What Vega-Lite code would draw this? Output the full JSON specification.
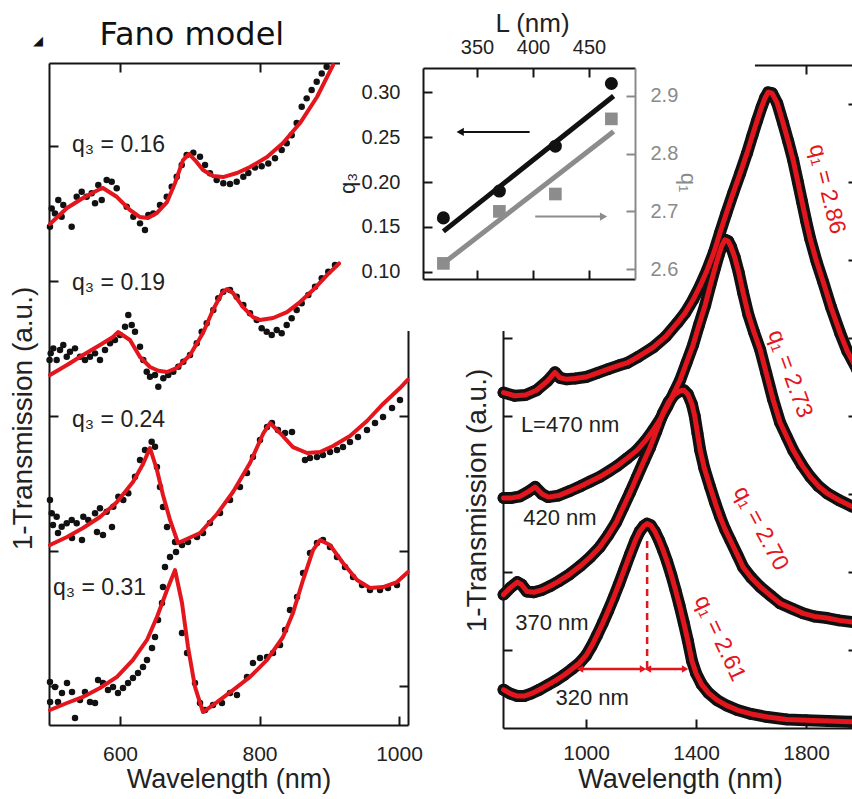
{
"$schema": "https://vega.github.io/schema/vega-lite/v6.json",
"width": 852, "height": 799, "autosize": "none", "padding": 0, "background": "white",
"config": {
  "view": {"stroke": null},
  "font": "Liberation Sans",
  "text": {"font": "Liberation Sans"},
  "axis": {"grid": false, "domainColor": "#151515", "domainWidth": 2, "tickColor": "#151515", "tickWidth": 2, "tickSize": -9,
           "labelFont": "Liberation Sans", "labelFontSize": 21, "labelColor": "#222", "labelPadding": 12, "labelFlush": false, "labelOverlap": false,
           "titleFont": "Liberation Sans", "titleFontSize": 27, "titleFontWeight": "normal", "titleColor": "#222"}
},
"datasets": {
  "leftDots": [
    {"s":"0.16","nm":499.6,"T":3.402},{"s":"0.16","nm":502.1,"T":3.538},{"s":"0.16","nm":506.8,"T":3.501},{"s":"0.16","nm":511.5,"T":3.6},{"s":"0.16","nm":516.3,"T":3.476},{"s":"0.16","nm":518.7,"T":3.563},{"s":"0.16","nm":530.7,"T":3.402},{"s":"0.16","nm":537.9,"T":3.625},{"s":"0.16","nm":545.1,"T":3.662},{"s":"0.16","nm":552.2,"T":3.625},{"s":"0.16","nm":559.4,"T":3.65},{"s":"0.16","nm":564.2,"T":3.576},{"s":"0.16","nm":568.9,"T":3.711},{"s":"0.16","nm":573.8,"T":3.6},{"s":"0.16","nm":580.9,"T":3.748},{"s":"0.16","nm":588.1,"T":3.736},{"s":"0.16","nm":595.3,"T":3.687},{"s":"0.16","nm":609.6,"T":3.551},{"s":"0.16","nm":619.1,"T":3.476},{"s":"0.16","nm":628.7,"T":3.427},{"s":"0.16","nm":635.8,"T":3.378},{"s":"0.16","nm":640.6,"T":3.489},{"s":"0.16","nm":647.7,"T":3.501},{"s":"0.16","nm":657.3,"T":3.563},{"s":"0.16","nm":667.0,"T":3.625},{"s":"0.16","nm":674.1,"T":3.699},{"s":"0.16","nm":681.3,"T":3.773},{"s":"0.16","nm":688.5,"T":3.859},{"s":"0.16","nm":695.6,"T":3.933},{"s":"0.16","nm":705.1,"T":3.951},{"s":"0.16","nm":714.7,"T":3.921},{"s":"0.16","nm":721.9,"T":3.859},{"s":"0.16","nm":729.0,"T":3.798},{"s":"0.16","nm":738.6,"T":3.748},{"s":"0.16","nm":748.1,"T":3.724},{"s":"0.16","nm":757.7,"T":3.719},{"s":"0.16","nm":767.3,"T":3.736},{"s":"0.16","nm":776.8,"T":3.773},{"s":"0.16","nm":784.0,"T":3.8},{"s":"0.16","nm":793.5,"T":3.84},{"s":"0.16","nm":803.1,"T":3.85},{"s":"0.16","nm":812.6,"T":3.87},{"s":"0.16","nm":822.2,"T":3.91},{"s":"0.16","nm":831.8,"T":3.97},{"s":"0.16","nm":839.0,"T":4.02},{"s":"0.16","nm":846.1,"T":4.08},{"s":"0.16","nm":853.3,"T":4.17},{"s":"0.16","nm":860.5,"T":4.291},{"s":"0.16","nm":867.6,"T":4.353},{"s":"0.16","nm":874.8,"T":4.415},{"s":"0.16","nm":882.0,"T":4.476},{"s":"0.16","nm":889.2,"T":4.538},{"s":"0.16","nm":896.3,"T":4.587},
    {"s":"0.19","nm":499.0,"T":2.415},{"s":"0.19","nm":500.6,"T":2.464},{"s":"0.19","nm":504.4,"T":2.501},{"s":"0.19","nm":509.2,"T":2.415},{"s":"0.19","nm":514.0,"T":2.489},{"s":"0.19","nm":518.7,"T":2.526},{"s":"0.19","nm":523.6,"T":2.439},{"s":"0.19","nm":528.3,"T":2.476},{"s":"0.19","nm":535.5,"T":2.501},{"s":"0.19","nm":542.7,"T":2.439},{"s":"0.19","nm":549.8,"T":2.415},{"s":"0.19","nm":557.0,"T":2.439},{"s":"0.19","nm":564.2,"T":2.464},{"s":"0.19","nm":571.3,"T":2.415},{"s":"0.19","nm":578.5,"T":2.489},{"s":"0.19","nm":585.7,"T":2.539},{"s":"0.19","nm":592.8,"T":2.563},{"s":"0.19","nm":600.0,"T":2.6},{"s":"0.19","nm":607.2,"T":2.661},{"s":"0.19","nm":611.9,"T":2.748},{"s":"0.19","nm":616.8,"T":2.674},{"s":"0.19","nm":621.5,"T":2.624},{"s":"0.19","nm":628.7,"T":2.513},{"s":"0.19","nm":633.4,"T":2.415},{"s":"0.19","nm":638.3,"T":2.328},{"s":"0.19","nm":643.0,"T":2.291},{"s":"0.19","nm":650.2,"T":2.304},{"s":"0.19","nm":654.9,"T":2.217},{"s":"0.19","nm":662.1,"T":2.279},{"s":"0.19","nm":669.2,"T":2.304},{"s":"0.19","nm":676.4,"T":2.328},{"s":"0.19","nm":683.6,"T":2.365},{"s":"0.19","nm":690.8,"T":2.402},{"s":"0.19","nm":700.4,"T":2.452},{"s":"0.19","nm":710.0,"T":2.539},{"s":"0.19","nm":717.1,"T":2.624},{"s":"0.19","nm":724.3,"T":2.687},{"s":"0.19","nm":733.8,"T":2.785},{"s":"0.19","nm":740.9,"T":2.872},{"s":"0.19","nm":748.1,"T":2.921},{"s":"0.19","nm":757.7,"T":2.933},{"s":"0.19","nm":767.3,"T":2.884},{"s":"0.19","nm":776.8,"T":2.822},{"s":"0.19","nm":786.4,"T":2.761},{"s":"0.19","nm":796.0,"T":2.711},{"s":"0.19","nm":803.1,"T":2.65},{"s":"0.19","nm":810.3,"T":2.624},{"s":"0.19","nm":817.5,"T":2.6},{"s":"0.19","nm":824.7,"T":2.637},{"s":"0.19","nm":831.8,"T":2.613},{"s":"0.19","nm":839.0,"T":2.674},{"s":"0.19","nm":846.1,"T":2.724},{"s":"0.19","nm":853.3,"T":2.785},{"s":"0.19","nm":860.5,"T":2.835},{"s":"0.19","nm":870.0,"T":2.896},{"s":"0.19","nm":879.6,"T":2.958},{"s":"0.19","nm":889.2,"T":3.02},{"s":"0.19","nm":898.6,"T":3.069},{"s":"0.19","nm":908.2,"T":3.119},
    {"s":"0.24","nm":499.6,"T":1.378},{"s":"0.24","nm":502.1,"T":1.279},{"s":"0.24","nm":509.2,"T":1.254},{"s":"0.24","nm":503.9,"T":1.193},{"s":"0.24","nm":511.1,"T":1.133},{"s":"0.24","nm":516.4,"T":1.18},{"s":"0.24","nm":523.6,"T":1.205},{"s":"0.24","nm":531.2,"T":1.096},{"s":"0.24","nm":530.8,"T":1.23},{"s":"0.24","nm":537.9,"T":1.205},{"s":"0.24","nm":545.5,"T":1.081},{"s":"0.24","nm":547.4,"T":1.254},{"s":"0.24","nm":554.5,"T":1.23},{"s":"0.24","nm":567.0,"T":1.141},{"s":"0.24","nm":564.2,"T":1.279},{"s":"0.24","nm":571.3,"T":1.316},{"s":"0.24","nm":575.6,"T":1.119},{"s":"0.24","nm":580.9,"T":1.291},{"s":"0.24","nm":588.5,"T":1.178},{"s":"0.24","nm":590.4,"T":1.328},{"s":"0.24","nm":597.6,"T":1.402},{"s":"0.24","nm":604.7,"T":1.378},{"s":"0.24","nm":611.9,"T":1.427},{"s":"0.24","nm":621.5,"T":1.55},{"s":"0.24","nm":628.7,"T":1.674},{"s":"0.24","nm":635.8,"T":1.748},{"s":"0.24","nm":645.4,"T":1.81},{"s":"0.24","nm":650.2,"T":1.773},{"s":"0.24","nm":653.0,"T":1.622},{"s":"0.24","nm":657.3,"T":1.474},{"s":"0.24","nm":661.6,"T":1.326},{"s":"0.24","nm":667.4,"T":1.178},{"s":"0.24","nm":678.9,"T":1.067},{"s":"0.24","nm":688.9,"T":1.044},{"s":"0.24","nm":697.5,"T":1.067},{"s":"0.24","nm":710.4,"T":1.104},{"s":"0.24","nm":719.0,"T":1.133},{"s":"0.24","nm":729.0,"T":1.207},{"s":"0.24","nm":743.4,"T":1.281},{"s":"0.24","nm":757.7,"T":1.378},{"s":"0.24","nm":772.0,"T":1.474},{"s":"0.24","nm":782.1,"T":1.578},{"s":"0.24","nm":790.7,"T":1.696},{"s":"0.24","nm":800.7,"T":1.822},{"s":"0.24","nm":810.8,"T":1.919},{"s":"0.24","nm":817.9,"T":1.948},{"s":"0.24","nm":826.5,"T":1.896},{"s":"0.24","nm":836.6,"T":1.874},{"s":"0.24","nm":846.6,"T":1.881},{"s":"0.24","nm":865.2,"T":1.674},{"s":"0.24","nm":872.4,"T":1.689},{"s":"0.24","nm":882.4,"T":1.696},{"s":"0.24","nm":891.0,"T":1.711},{"s":"0.24","nm":901.1,"T":1.733},{"s":"0.24","nm":911.1,"T":1.748},{"s":"0.24","nm":919.7,"T":1.77},{"s":"0.24","nm":929.7,"T":1.807},{"s":"0.24","nm":941.2,"T":1.844},{"s":"0.24","nm":954.1,"T":1.896},{"s":"0.24","nm":965.6,"T":1.948},{"s":"0.24","nm":977.1,"T":1.993},{"s":"0.24","nm":990.0,"T":2.059},{"s":"0.24","nm":1001.4,"T":2.119},
    {"s":"0.31","nm":499.6,"T":0.03},{"s":"0.31","nm":499.8,"T":-0.119},{"s":"0.31","nm":506.8,"T":-0.007},{"s":"0.31","nm":511.1,"T":-0.119},{"s":"0.31","nm":516.8,"T":-0.052},{"s":"0.31","nm":524.0,"T":0.022},{"s":"0.31","nm":531.2,"T":-0.044},{"s":"0.31","nm":535.5,"T":-0.237},{"s":"0.31","nm":542.7,"T":-0.104},{"s":"0.31","nm":549.8,"T":-0.044},{"s":"0.31","nm":557.0,"T":-0.119},{"s":"0.31","nm":564.2,"T":-0.126},{"s":"0.31","nm":568.5,"T":0.044},{"s":"0.31","nm":575.6,"T":0.022},{"s":"0.31","nm":582.8,"T":-0.03},{"s":"0.31","nm":590.0,"T":-0.007},{"s":"0.31","nm":597.1,"T":-0.052},{"s":"0.31","nm":604.3,"T":-0.015},{"s":"0.31","nm":611.5,"T":0.022},{"s":"0.31","nm":618.6,"T":0.059},{"s":"0.31","nm":625.8,"T":0.096},{"s":"0.31","nm":633.0,"T":0.141},{"s":"0.31","nm":638.7,"T":0.193},{"s":"0.31","nm":645.9,"T":0.281},{"s":"0.31","nm":650.2,"T":0.363},{"s":"0.31","nm":654.5,"T":0.489},{"s":"0.31","nm":660.2,"T":0.615},{"s":"0.31","nm":661.6,"T":0.733},{"s":"0.31","nm":664.5,"T":0.881},{"s":"0.31","nm":671.7,"T":0.956},{"s":"0.31","nm":680.3,"T":0.993},{"s":"0.31","nm":688.9,"T":0.393},{"s":"0.31","nm":696.1,"T":0.244},{"s":"0.31","nm":707.5,"T":0.022},{"s":"0.31","nm":714.7,"T":-0.126},{"s":"0.31","nm":721.9,"T":-0.178},{"s":"0.31","nm":733.3,"T":-0.141},{"s":"0.31","nm":746.2,"T":-0.126},{"s":"0.31","nm":757.7,"T":-0.052},{"s":"0.31","nm":767.7,"T":-0.067},{"s":"0.31","nm":782.1,"T":0.067},{"s":"0.31","nm":790.7,"T":0.17},{"s":"0.31","nm":800.7,"T":0.207},{"s":"0.31","nm":810.8,"T":0.215},{"s":"0.31","nm":819.4,"T":0.244},{"s":"0.31","nm":829.4,"T":0.304},{"s":"0.31","nm":836.6,"T":0.415},{"s":"0.31","nm":843.7,"T":0.563},{"s":"0.31","nm":853.8,"T":0.659},{"s":"0.31","nm":862.4,"T":0.837},{"s":"0.31","nm":872.4,"T":0.985},{"s":"0.31","nm":882.4,"T":1.059},{"s":"0.31","nm":891.0,"T":1.081},{"s":"0.31","nm":901.1,"T":1.03},{"s":"0.31","nm":911.1,"T":0.956},{"s":"0.31","nm":922.6,"T":0.881},{"s":"0.31","nm":934.1,"T":0.807},{"s":"0.31","nm":947.0,"T":0.748},{"s":"0.31","nm":958.4,"T":0.711},{"s":"0.31","nm":972.8,"T":0.711},{"s":"0.31","nm":984.2,"T":0.726},{"s":"0.31","nm":997.1,"T":0.748}
  ],
  "leftFit": [
    {"s":"0.16","nm":499.6,"T":3.422},{"s":"0.16","nm":524.0,"T":3.541},{"s":"0.16","nm":547.0,"T":3.615},{"s":"0.16","nm":571.3,"T":3.681},{"s":"0.16","nm":575.6,"T":3.689},{"s":"0.16","nm":595.7,"T":3.622},{"s":"0.16","nm":614.3,"T":3.526},{"s":"0.16","nm":628.7,"T":3.474},{"s":"0.16","nm":640.1,"T":3.467},{"s":"0.16","nm":653.0,"T":3.504},{"s":"0.16","nm":667.4,"T":3.585},{"s":"0.16","nm":678.9,"T":3.726},{"s":"0.16","nm":690.3,"T":3.896},{"s":"0.16","nm":698.9,"T":3.941},{"s":"0.16","nm":707.5,"T":3.896},{"s":"0.16","nm":719.0,"T":3.822},{"s":"0.16","nm":733.3,"T":3.778},{"s":"0.16","nm":747.7,"T":3.77},{"s":"0.16","nm":767.7,"T":3.8},{"s":"0.16","nm":786.4,"T":3.844},{"s":"0.16","nm":810.8,"T":3.919},{"s":"0.16","nm":833.7,"T":4.022},{"s":"0.16","nm":858.1,"T":4.17},{"s":"0.16","nm":882.4,"T":4.363},{"s":"0.16","nm":905.4,"T":4.6},
    {"s":"0.19","nm":499.6,"T":2.304},{"s":"0.19","nm":524.0,"T":2.378},{"s":"0.19","nm":547.0,"T":2.452},{"s":"0.19","nm":571.3,"T":2.526},{"s":"0.19","nm":590.0,"T":2.585},{"s":"0.19","nm":597.1,"T":2.622},{"s":"0.19","nm":614.3,"T":2.563},{"s":"0.19","nm":628.7,"T":2.437},{"s":"0.19","nm":643.0,"T":2.363},{"s":"0.19","nm":655.0,"T":2.335},{"s":"0.19","nm":667.4,"T":2.326},{"s":"0.19","nm":681.7,"T":2.356},{"s":"0.19","nm":700.4,"T":2.452},{"s":"0.19","nm":719.0,"T":2.615},{"s":"0.19","nm":733.3,"T":2.785},{"s":"0.19","nm":746.2,"T":2.911},{"s":"0.19","nm":753.4,"T":2.941},{"s":"0.19","nm":762.0,"T":2.911},{"s":"0.19","nm":776.3,"T":2.807},{"s":"0.19","nm":790.7,"T":2.733},{"s":"0.19","nm":800.7,"T":2.711},{"s":"0.19","nm":819.4,"T":2.726},{"s":"0.19","nm":839.4,"T":2.77},{"s":"0.19","nm":858.1,"T":2.844},{"s":"0.19","nm":876.7,"T":2.933},{"s":"0.19","nm":896.8,"T":3.044},{"s":"0.19","nm":914.0,"T":3.13},
    {"s":"0.24","nm":499.6,"T":1.044},{"s":"0.24","nm":524.0,"T":1.104},{"s":"0.24","nm":547.0,"T":1.17},{"s":"0.24","nm":571.3,"T":1.252},{"s":"0.24","nm":595.7,"T":1.363},{"s":"0.24","nm":618.6,"T":1.511},{"s":"0.24","nm":633.0,"T":1.644},{"s":"0.24","nm":643.0,"T":1.763},{"s":"0.24","nm":653.0,"T":1.6},{"s":"0.24","nm":661.6,"T":1.415},{"s":"0.24","nm":671.7,"T":1.23},{"s":"0.24","nm":683.2,"T":1.059},{"s":"0.24","nm":714.7,"T":1.133},{"s":"0.24","nm":739.1,"T":1.274},{"s":"0.24","nm":762.0,"T":1.437},{"s":"0.24","nm":786.4,"T":1.652},{"s":"0.24","nm":805.0,"T":1.867},{"s":"0.24","nm":815.1,"T":1.948},{"s":"0.24","nm":829.4,"T":1.874},{"s":"0.24","nm":848.0,"T":1.77},{"s":"0.24","nm":868.1,"T":1.726},{"s":"0.24","nm":886.7,"T":1.733},{"s":"0.24","nm":905.4,"T":1.778},{"s":"0.24","nm":929.7,"T":1.852},{"s":"0.24","nm":954.1,"T":1.963},{"s":"0.24","nm":977.1,"T":2.089},{"s":"0.24","nm":1001.4,"T":2.207},{"s":"0.24","nm":1012.4,"T":2.267},
    {"s":"0.31","nm":499.6,"T":-0.178},{"s":"0.31","nm":524.0,"T":-0.126},{"s":"0.31","nm":547.0,"T":-0.081},{"s":"0.31","nm":571.3,"T":-0.015},{"s":"0.31","nm":595.7,"T":0.067},{"s":"0.31","nm":618.6,"T":0.193},{"s":"0.31","nm":638.7,"T":0.341},{"s":"0.31","nm":653.0,"T":0.511},{"s":"0.31","nm":667.4,"T":0.711},{"s":"0.31","nm":678.9,"T":0.859},{"s":"0.31","nm":688.9,"T":0.615},{"s":"0.31","nm":697.5,"T":0.289},{"s":"0.31","nm":707.5,"T":-0.007},{"s":"0.31","nm":719.0,"T":-0.193},{"s":"0.31","nm":739.1,"T":-0.119},{"s":"0.31","nm":762.0,"T":-0.03},{"s":"0.31","nm":786.4,"T":0.067},{"s":"0.31","nm":810.8,"T":0.193},{"s":"0.31","nm":833.7,"T":0.363},{"s":"0.31","nm":848.0,"T":0.541},{"s":"0.31","nm":862.4,"T":0.785},{"s":"0.31","nm":876.7,"T":1.007},{"s":"0.31","nm":886.7,"T":1.081},{"s":"0.31","nm":901.1,"T":1.044},{"s":"0.31","nm":919.7,"T":0.911},{"s":"0.31","nm":939.8,"T":0.785},{"s":"0.31","nm":958.4,"T":0.726},{"s":"0.31","nm":977.1,"T":0.733},{"s":"0.31","nm":997.1,"T":0.77},{"s":"0.31","nm":1012.9,"T":0.844}
  ],
  "leftLabels": [
    {"label":"q₃ = 0.16","nm":531.2,"T":4.007},
    {"label":"q₃ = 0.19","nm":531.2,"T":2.985},
    {"label":"q₃ = 0.24","nm":531.2,"T":1.97},
    {"label":"q₃ = 0.31","nm":503.9,"T":0.726}
  ],
  "spectra": [
    {"L":320,"nm":700,"T":0.49},{"L":320,"nm":725,"T":0.44},{"L":320,"nm":750,"T":0.41},{"L":320,"nm":775,"T":0.41},{"L":320,"nm":800,"T":0.44},{"L":320,"nm":830,"T":0.49},{"L":320,"nm":860,"T":0.55},{"L":320,"nm":890,"T":0.61},{"L":320,"nm":920,"T":0.68},{"L":320,"nm":950,"T":0.76},{"L":320,"nm":975,"T":0.83},{"L":320,"nm":1000,"T":0.93},{"L":320,"nm":1020,"T":1.05},{"L":320,"nm":1040,"T":1.19},{"L":320,"nm":1060,"T":1.34},{"L":320,"nm":1080,"T":1.5},{"L":320,"nm":1100,"T":1.67},{"L":320,"nm":1120,"T":1.85},{"L":320,"nm":1140,"T":2.04},{"L":320,"nm":1160,"T":2.23},{"L":320,"nm":1180,"T":2.41},{"L":320,"nm":1195,"T":2.52},{"L":320,"nm":1210,"T":2.59},{"L":320,"nm":1222,"T":2.62},{"L":320,"nm":1235,"T":2.6},{"L":320,"nm":1250,"T":2.52},{"L":320,"nm":1265,"T":2.41},{"L":320,"nm":1280,"T":2.28},{"L":320,"nm":1295,"T":2.13},{"L":320,"nm":1310,"T":1.96},{"L":320,"nm":1325,"T":1.77},{"L":320,"nm":1340,"T":1.57},{"L":320,"nm":1355,"T":1.35},{"L":320,"nm":1370,"T":1.12},{"L":320,"nm":1385,"T":0.86},{"L":320,"nm":1400,"T":0.7},{"L":320,"nm":1420,"T":0.56},{"L":320,"nm":1445,"T":0.45},{"L":320,"nm":1475,"T":0.36},{"L":320,"nm":1510,"T":0.29},{"L":320,"nm":1550,"T":0.23},{"L":320,"nm":1600,"T":0.18},{"L":320,"nm":1660,"T":0.14},{"L":320,"nm":1730,"T":0.11},{"L":320,"nm":1800,"T":0.1},{"L":320,"nm":1880,"T":0.09},{"L":320,"nm":1960,"T":0.08},{"L":320,"nm":1985,"T":0.08},
    {"L":370,"nm":700,"T":1.71},{"L":370,"nm":725,"T":1.8},{"L":370,"nm":750,"T":1.87},{"L":370,"nm":765,"T":1.84},{"L":370,"nm":785,"T":1.75},{"L":370,"nm":810,"T":1.74},{"L":370,"nm":840,"T":1.77},{"L":370,"nm":870,"T":1.82},{"L":370,"nm":900,"T":1.88},{"L":370,"nm":940,"T":1.97},{"L":370,"nm":980,"T":2.08},{"L":370,"nm":1015,"T":2.19},{"L":370,"nm":1050,"T":2.32},{"L":370,"nm":1080,"T":2.47},{"L":370,"nm":1110,"T":2.64},{"L":370,"nm":1135,"T":2.83},{"L":370,"nm":1160,"T":3.02},{"L":370,"nm":1185,"T":3.22},{"L":370,"nm":1210,"T":3.42},{"L":370,"nm":1233,"T":3.6},{"L":370,"nm":1255,"T":3.8},{"L":370,"nm":1280,"T":4.04},{"L":370,"nm":1300,"T":4.18},{"L":370,"nm":1320,"T":4.27},{"L":370,"nm":1340,"T":4.32},{"L":370,"nm":1356,"T":4.33},{"L":370,"nm":1370,"T":4.28},{"L":370,"nm":1385,"T":4.15},{"L":370,"nm":1395,"T":4.0},{"L":370,"nm":1405,"T":3.78},{"L":370,"nm":1415,"T":3.56},{"L":370,"nm":1430,"T":3.33},{"L":370,"nm":1451,"T":3.09},{"L":370,"nm":1470,"T":2.88},{"L":370,"nm":1487,"T":2.71},{"L":370,"nm":1505,"T":2.55},{"L":370,"nm":1524,"T":2.41},{"L":370,"nm":1550,"T":2.22},{"L":370,"nm":1571,"T":2.06},{"L":370,"nm":1600,"T":1.93},{"L":370,"nm":1633,"T":1.81},{"L":370,"nm":1670,"T":1.7},{"L":370,"nm":1705,"T":1.6},{"L":370,"nm":1750,"T":1.53},{"L":370,"nm":1789,"T":1.47},{"L":370,"nm":1830,"T":1.43},{"L":370,"nm":1876,"T":1.41},{"L":370,"nm":1920,"T":1.38},{"L":370,"nm":1985,"T":1.35},
    {"L":420,"nm":700,"T":2.95},{"L":420,"nm":730,"T":2.95},{"L":420,"nm":760,"T":2.97},{"L":420,"nm":790,"T":3.03},{"L":420,"nm":815,"T":3.09},{"L":420,"nm":840,"T":3.0},{"L":420,"nm":862,"T":2.96},{"L":420,"nm":900,"T":2.98},{"L":420,"nm":942,"T":3.04},{"L":420,"nm":980,"T":3.1},{"L":420,"nm":1015,"T":3.16},{"L":420,"nm":1050,"T":3.22},{"L":420,"nm":1087,"T":3.3},{"L":420,"nm":1113,"T":3.36},{"L":420,"nm":1150,"T":3.46},{"L":420,"nm":1185,"T":3.56},{"L":420,"nm":1215,"T":3.68},{"L":420,"nm":1244,"T":3.82},{"L":420,"nm":1270,"T":3.96},{"L":420,"nm":1295,"T":4.12},{"L":420,"nm":1320,"T":4.3},{"L":420,"nm":1342,"T":4.46},{"L":420,"nm":1365,"T":4.68},{"L":420,"nm":1389,"T":4.91},{"L":420,"nm":1410,"T":5.16},{"L":420,"nm":1433,"T":5.42},{"L":420,"nm":1452,"T":5.68},{"L":420,"nm":1469,"T":5.9},{"L":420,"nm":1482,"T":6.06},{"L":420,"nm":1493,"T":6.18},{"L":420,"nm":1505,"T":6.26},{"L":420,"nm":1517,"T":6.24},{"L":420,"nm":1527,"T":6.17},{"L":420,"nm":1540,"T":6.04},{"L":420,"nm":1555,"T":5.84},{"L":420,"nm":1571,"T":5.58},{"L":420,"nm":1590,"T":5.3},{"L":420,"nm":1610,"T":5.08},{"L":420,"nm":1633,"T":4.85},{"L":420,"nm":1655,"T":4.55},{"L":420,"nm":1680,"T":4.21},{"L":420,"nm":1705,"T":3.92},{"L":420,"nm":1730,"T":3.73},{"L":420,"nm":1753,"T":3.56},{"L":420,"nm":1785,"T":3.37},{"L":420,"nm":1815,"T":3.22},{"L":420,"nm":1845,"T":3.1},{"L":420,"nm":1876,"T":3.01},{"L":420,"nm":1920,"T":2.92},{"L":420,"nm":1967,"T":2.84},{"L":420,"nm":1985,"T":2.82},
    {"L":470,"nm":700,"T":4.3},{"L":470,"nm":740,"T":4.26},{"L":470,"nm":780,"T":4.27},{"L":470,"nm":820,"T":4.33},{"L":470,"nm":860,"T":4.45},{"L":470,"nm":887,"T":4.56},{"L":470,"nm":905,"T":4.49},{"L":470,"nm":930,"T":4.47},{"L":470,"nm":960,"T":4.48},{"L":470,"nm":1000,"T":4.5},{"L":470,"nm":1040,"T":4.55},{"L":470,"nm":1080,"T":4.6},{"L":470,"nm":1120,"T":4.65},{"L":470,"nm":1149,"T":4.68},{"L":470,"nm":1190,"T":4.76},{"L":470,"nm":1244,"T":4.88},{"L":470,"nm":1290,"T":5.02},{"L":470,"nm":1331,"T":5.19},{"L":470,"nm":1360,"T":5.32},{"L":470,"nm":1389,"T":5.49},{"L":470,"nm":1415,"T":5.67},{"L":470,"nm":1440,"T":5.87},{"L":470,"nm":1465,"T":6.1},{"L":470,"nm":1487,"T":6.35},{"L":470,"nm":1510,"T":6.6},{"L":470,"nm":1535,"T":6.86},{"L":470,"nm":1560,"T":7.11},{"L":470,"nm":1585,"T":7.37},{"L":470,"nm":1605,"T":7.6},{"L":470,"nm":1622,"T":7.79},{"L":470,"nm":1638,"T":7.96},{"L":470,"nm":1651,"T":8.08},{"L":470,"nm":1662,"T":8.15},{"L":470,"nm":1676,"T":8.14},{"L":470,"nm":1695,"T":8.01},{"L":470,"nm":1716,"T":7.76},{"L":470,"nm":1735,"T":7.52},{"L":470,"nm":1753,"T":7.28},{"L":470,"nm":1770,"T":7.0},{"L":470,"nm":1785,"T":6.75},{"L":470,"nm":1800,"T":6.5},{"L":470,"nm":1815,"T":6.27},{"L":470,"nm":1838,"T":5.98},{"L":470,"nm":1862,"T":5.72},{"L":470,"nm":1890,"T":5.4},{"L":470,"nm":1924,"T":5.06},{"L":470,"nm":1950,"T":4.83},{"L":470,"nm":1985,"T":4.6}
  ],
  "spectrumLabels": [
    {"label":"L=470 nm","nm":942,"T":3.885},
    {"label":"420 nm","nm":905,"T":2.69},
    {"label":"370 nm","nm":876,"T":1.35},
    {"label":"320 nm","nm":1022,"T":0.385}
  ],
  "qLabels": [
    {"L":470,"label":"q₁ = 2.86","nm":1876,"T":6.91},
    {"L":420,"label":"q₁ = 2.73","nm":1742,"T":4.54},
    {"L":370,"label":"q₁ = 2.70","nm":1636,"T":2.56},
    {"L":320,"label":"q₁ = 2.61","nm":1487,"T":1.15}
  ],
  "fano": [
    {"L":320,"q3":0.16,"q1":2.61},
    {"L":370,"q3":0.19,"q1":2.70},
    {"L":420,"q3":0.24,"q1":2.73},
    {"L":470,"q3":0.31,"q1":2.86}
  ],
  "fanoFit": [
    {"L":320,"q3":0.145,"q1":2.61},
    {"L":472,"q3":0.296,"q1":2.838}
  ],
  "arrows": [
    {"axis":"q3","L":397,"L2":335,"val":0.256},
    {"axis":"q1","L":402,"L2":463,"val":2.691}
  ],
  "fwhm": [
    {"nm":978,"nm2":1207,"T":0.756},
    {"nm":1225,"nm2":1360,"T":0.756}
  ],
  "peak": [
    {"nm":1222,"T":0.77,"T2":2.41}
  ]
},
"layer": [
  {
    "layer": [
      {
        "layer": [
          {"data": {"values": [{}]}, "mark": {"type": "rect", "fill": "white"},
           "encoding": {
             "x": {"datum": 227.7, "type": "quantitative", "scale": {"domain": [301.8, 491.1], "range": [423, 635], "nice": false, "zero": false}, "axis": null},
             "x2": {"datum": 598.2},
             "y": {"datum": 0.0337, "type": "quantitative", "scale": {"domain": [0.0918, 0.3273], "range": [279, 68], "nice": false, "zero": false}, "axis": null},
             "y2": {"datum": 0.41}}},
          {"data": {"name": "fanoFit"}, "mark": {"type": "line", "color": "#111", "strokeWidth": 5},
           "encoding": {
             "x": {"field": "L", "type": "quantitative", "scale": {"domain": [301.8, 491.1], "range": [423, 635], "nice": false, "zero": false},
                   "axis": {"orient": "bottom", "offset": -520, "values": [350, 400, 450], "labels": false, "title": null, "zindex": 1}},
             "y": {"field": "q3", "type": "quantitative", "scale": {"domain": [0.0918, 0.3273], "range": [279, 68], "nice": false, "zero": false}, "axis": null}}},
          {"data": {"name": "fano"}, "mark": {"type": "circle", "size": 170, "color": "#111", "opacity": 1},
           "encoding": {
             "x": {"field": "L", "type": "quantitative", "scale": {"domain": [301.8, 491.1], "range": [423, 635], "nice": false, "zero": false},
                   "axis": {"orient": "top", "offset": -68, "values": [350, 400, 450], "format": "d", "labelFontSize": 20, "labelPadding": 20,
                            "title": "L (nm)", "titleFontSize": 26, "titleX": 532, "titleY": -45, "titleBaseline": "middle", "titleAlign": "center", "zindex": 1}},
             "y": {"field": "q3", "type": "quantitative", "scale": {"domain": [0.0918, 0.3273], "range": [279, 68], "nice": false, "zero": false},
                   "axis": {"orient": "left", "offset": -423, "values": [0.1, 0.15, 0.2, 0.25, 0.3], "format": ".2f", "labelFontSize": 20, "labelPadding": 32,
                            "title": "q₃", "titleFontSize": 22, "titleX": -76, "titleY": 183, "titleAngle": 270, "titleAlign": "center", "titleBaseline": "middle", "zindex": 1}}}},
          {"data": {"name": "arrows"}, "transform": [{"filter": "datum.axis === 'q3'"}], "mark": {"type": "rule", "color": "#111", "strokeWidth": 2},
           "encoding": {
             "x": {"field": "L", "type": "quantitative", "scale": {"domain": [301.8, 491.1], "range": [423, 635], "nice": false, "zero": false}, "axis": null},
             "x2": {"field": "L2"},
             "y": {"field": "val", "type": "quantitative", "scale": {"domain": [0.0918, 0.3273], "range": [279, 68], "nice": false, "zero": false}, "axis": null}}},
          {"data": {"name": "arrows"}, "transform": [{"filter": "datum.axis === 'q3'"}], "mark": {"type": "point", "shape": "triangle-left", "filled": true, "size": 70, "color": "#111", "opacity": 1},
           "encoding": {
             "x": {"field": "L2", "type": "quantitative", "scale": {"domain": [301.8, 491.1], "range": [423, 635], "nice": false, "zero": false}, "axis": null},
             "y": {"field": "val", "type": "quantitative", "scale": {"domain": [0.0918, 0.3273], "range": [279, 68], "nice": false, "zero": false}, "axis": null}}}
        ],
        "resolve": {"axis": {"x": "independent", "y": "independent"}}
      },
      {
        "layer": [
          {"data": {"name": "fanoFit"}, "mark": {"type": "line", "color": "#8c8c8c", "strokeWidth": 5},
           "encoding": {
             "x": {"field": "L", "type": "quantitative", "scale": {"domain": [301.8, 491.1], "range": [423, 635], "nice": false, "zero": false}, "axis": null},
             "y": {"field": "q1", "type": "quantitative", "scale": {"domain": [2.583, 2.948], "range": [279, 68], "nice": false, "zero": false}, "axis": null}}},
          {"data": {"name": "fano"}, "mark": {"type": "square", "size": 160, "color": "#8c8c8c", "opacity": 1},
           "encoding": {
             "x": {"field": "L", "type": "quantitative", "scale": {"domain": [301.8, 491.1], "range": [423, 635], "nice": false, "zero": false}, "axis": null},
             "y": {"field": "q1", "type": "quantitative", "scale": {"domain": [2.583, 2.948], "range": [279, 68], "nice": false, "zero": false},
                   "axis": {"orient": "right", "offset": -217, "values": [2.6, 2.7, 2.8, 2.9], "format": ".1f", "labelFontSize": 20, "labelPadding": 24,
                            "labelColor": "#8a8a8a", "domainColor": "#8a8a8a", "tickColor": "#8a8a8a",
                            "title": "q₁", "titleColor": "#8a8a8a", "titleFontSize": 22, "titleX": 52, "titleY": 182, "titleAngle": 90, "titleAlign": "center", "titleBaseline": "middle", "zindex": 1}}}},
          {"data": {"name": "arrows"}, "transform": [{"filter": "datum.axis === 'q1'"}], "mark": {"type": "rule", "color": "#8c8c8c", "strokeWidth": 2},
           "encoding": {
             "x": {"field": "L", "type": "quantitative", "scale": {"domain": [301.8, 491.1], "range": [423, 635], "nice": false, "zero": false}, "axis": null},
             "x2": {"field": "L2"},
             "y": {"field": "val", "type": "quantitative", "scale": {"domain": [2.583, 2.948], "range": [279, 68], "nice": false, "zero": false}, "axis": null}}},
          {"data": {"name": "arrows"}, "transform": [{"filter": "datum.axis === 'q1'"}], "mark": {"type": "point", "shape": "triangle-right", "filled": true, "size": 70, "color": "#8c8c8c", "opacity": 1},
           "encoding": {
             "x": {"field": "L2", "type": "quantitative", "scale": {"domain": [301.8, 491.1], "range": [423, 635], "nice": false, "zero": false}, "axis": null},
             "y": {"field": "val", "type": "quantitative", "scale": {"domain": [2.583, 2.948], "range": [279, 68], "nice": false, "zero": false}, "axis": null}}}
        ],
        "resolve": {"axis": {"x": "independent", "y": "independent"}}
      }
    ],
    "resolve": {"scale": {"x": "shared", "y": "independent"}, "axis": {"x": "independent", "y": "independent"}}
  },
  {
    "layer": [
      {"data": {"name": "leftDots"}, "mark": {"type": "circle", "size": 42, "color": "#111", "opacity": 1},
       "encoding": {
         "x": {"field": "nm", "type": "quantitative", "scale": {"domain": [498.2, 1012.9], "range": [49, 408], "nice": false, "zero": false},
               "axis": {"orient": "bottom", "offset": -74, "values": [600, 800, 1000], "format": "d", "labelPadding": 27,
                        "title": "Wavelength (nm)", "titleY": 62, "titleBaseline": "alphabetic"}},
         "y": {"field": "T", "type": "quantitative", "scale": {"domain": [-0.289, 4.615], "range": [725, 63], "nice": false, "zero": false},
               "axis": {"orient": "left", "offset": -49, "values": [0, 1, 2, 3, 4], "labels": false,
                        "title": "1-Transmission (a.u.)", "titleFontSize": 28, "titleX": -26, "titleY": 418, "titleAngle": 270, "titleAlign": "center", "titleBaseline": "middle"}}}},
      {"data": {"name": "leftFit"}, "mark": {"type": "line", "color": "#e3161e", "strokeWidth": 4, "strokeJoin": "round", "strokeCap": "round"},
       "encoding": {
         "x": {"field": "nm", "type": "quantitative", "scale": {"domain": [498.2, 1012.9], "range": [49, 408], "nice": false, "zero": false},
               "axis": {"orient": "top", "offset": -63, "values": [600, 800, 1000], "labels": false, "title": null}},
         "y": {"field": "T", "type": "quantitative", "scale": {"domain": [-0.289, 4.615], "range": [725, 63], "nice": false, "zero": false},
               "axis": {"orient": "right", "offset": -444, "values": [0, 1, 2, 3, 4], "labels": false, "title": null}},
         "detail": {"field": "s"}}},
      {"data": {"name": "leftLabels"}, "mark": {"type": "text", "align": "left", "baseline": "middle", "fontSize": 23, "color": "#222"},
       "encoding": {
         "x": {"field": "nm", "type": "quantitative", "scale": {"domain": [498.2, 1012.9], "range": [49, 408], "nice": false, "zero": false}, "axis": null},
         "y": {"field": "T", "type": "quantitative", "scale": {"domain": [-0.289, 4.615], "range": [725, 63], "nice": false, "zero": false}, "axis": null},
         "text": {"field": "label"}}},
      {"data": {"values": [{}]}, "mark": {"type": "text", "text": "Fano model", "font": "DejaVu Sans", "fontSize": 32, "align": "center", "baseline": "middle", "color": "#111"},
       "encoding": {
         "x": {"datum": 703, "type": "quantitative", "scale": {"domain": [498.2, 1012.9], "range": [49, 408], "nice": false, "zero": false}, "axis": null},
         "y": {"datum": 4.82, "type": "quantitative", "scale": {"domain": [-0.289, 4.615], "range": [725, 63], "nice": false, "zero": false}, "axis": null}}},
      {"data": {"values": [{}]}, "mark": {"type": "text", "text": "◢", "font": "DejaVu Sans", "fontSize": 13, "align": "center", "baseline": "middle", "color": "#111"},
       "encoding": {
         "x": {"datum": 482.4, "type": "quantitative", "scale": {"domain": [498.2, 1012.9], "range": [49, 408], "nice": false, "zero": false}, "axis": null},
         "y": {"datum": 4.778, "type": "quantitative", "scale": {"domain": [-0.289, 4.615], "range": [725, 63], "nice": false, "zero": false}, "axis": null}}}
    ],
    "resolve": {"axis": {"x": "independent", "y": "independent"}}
  },
  {
    "layer": [
      {"data": {"name": "spectra"}, "mark": {"type": "line", "color": "#111", "strokeWidth": 12, "strokeJoin": "round", "strokeCap": "round"},
       "encoding": {
         "x": {"field": "nm", "type": "quantitative", "scale": {"domain": [698, 1985], "range": [503, 857], "nice": false, "zero": false},
               "axis": {"orient": "bottom", "offset": -71, "values": [1000, 1400, 1800], "format": "d", "labelPadding": 23,
                        "title": "Wavelength (nm)", "titleY": 59, "titleBaseline": "alphabetic"}},
         "y": {"field": "T", "type": "quantitative", "scale": {"domain": [0, 8.5], "range": [728, 65], "nice": false, "zero": false},
               "axis": {"orient": "left", "offset": -503, "values": [1, 2, 3, 4, 5, 6, 7, 8], "labels": false,
                        "title": "1-Transmission (a.u.)", "titleFontSize": 28, "titleX": -26, "titleY": 500, "titleAngle": 270, "titleAlign": "center", "titleBaseline": "middle"}},
         "detail": {"field": "L"}}},
      {"data": {"name": "spectra"}, "mark": {"type": "circle", "size": 140, "color": "#111", "opacity": 1},
       "encoding": {
         "x": {"field": "nm", "type": "quantitative", "scale": {"domain": [698, 1985], "range": [503, 857], "nice": false, "zero": false},
               "axis": {"orient": "top", "offset": -65, "values": [1000, 1400, 1800], "labels": false, "title": null}},
         "y": {"field": "T", "type": "quantitative", "scale": {"domain": [0, 8.5], "range": [728, 65], "nice": false, "zero": false},
               "axis": {"orient": "right", "offset": 5, "values": [1, 2, 3, 4, 5, 6, 7, 8], "labels": false, "title": null}}}},
      {"data": {"name": "spectra"}, "mark": {"type": "line", "color": "#e3161e", "strokeWidth": 5, "strokeJoin": "round", "strokeCap": "round"},
       "encoding": {
         "x": {"field": "nm", "type": "quantitative", "scale": {"domain": [698, 1985], "range": [503, 857], "nice": false, "zero": false}, "axis": null},
         "y": {"field": "T", "type": "quantitative", "scale": {"domain": [0, 8.5], "range": [728, 65], "nice": false, "zero": false}, "axis": null},
         "detail": {"field": "L"}}},
      {"data": {"name": "peak"}, "mark": {"type": "rule", "color": "#e3161e", "strokeWidth": 2.5, "strokeDash": [7, 5]},
       "encoding": {
         "x": {"field": "nm", "type": "quantitative", "scale": {"domain": [698, 1985], "range": [503, 857], "nice": false, "zero": false}, "axis": null},
         "y": {"field": "T", "type": "quantitative", "scale": {"domain": [0, 8.5], "range": [728, 65], "nice": false, "zero": false}, "axis": null},
         "y2": {"field": "T2"}}},
      {"data": {"name": "fwhm"}, "mark": {"type": "rule", "color": "#e3161e", "strokeWidth": 2.5},
       "encoding": {
         "x": {"field": "nm", "type": "quantitative", "scale": {"domain": [698, 1985], "range": [503, 857], "nice": false, "zero": false}, "axis": null},
         "x2": {"field": "nm2"},
         "y": {"field": "T", "type": "quantitative", "scale": {"domain": [0, 8.5], "range": [728, 65], "nice": false, "zero": false}, "axis": null}}},
      {"data": {"name": "fwhm"}, "mark": {"type": "point", "shape": "triangle-left", "filled": true, "size": 55, "color": "#e3161e", "opacity": 1},
       "encoding": {
         "x": {"field": "nm", "type": "quantitative", "scale": {"domain": [698, 1985], "range": [503, 857], "nice": false, "zero": false}, "axis": null},
         "y": {"field": "T", "type": "quantitative", "scale": {"domain": [0, 8.5], "range": [728, 65], "nice": false, "zero": false}, "axis": null}}},
      {"data": {"name": "fwhm"}, "mark": {"type": "point", "shape": "triangle-right", "filled": true, "size": 55, "color": "#e3161e", "opacity": 1},
       "encoding": {
         "x": {"field": "nm2", "type": "quantitative", "scale": {"domain": [698, 1985], "range": [503, 857], "nice": false, "zero": false}, "axis": null},
         "y": {"field": "T", "type": "quantitative", "scale": {"domain": [0, 8.5], "range": [728, 65], "nice": false, "zero": false}, "axis": null}}},
      {"data": {"name": "spectrumLabels"}, "mark": {"type": "text", "align": "center", "baseline": "middle", "fontSize": 22, "color": "#222"},
       "encoding": {
         "x": {"field": "nm", "type": "quantitative", "scale": {"domain": [698, 1985], "range": [503, 857], "nice": false, "zero": false}, "axis": null},
         "y": {"field": "T", "type": "quantitative", "scale": {"domain": [0, 8.5], "range": [728, 65], "nice": false, "zero": false}, "axis": null},
         "text": {"field": "label"}}},
      {"data": {"name": "qLabels"}, "transform": [{"filter": "datum.L === 470"}], "mark": {"type": "text", "align": "center", "baseline": "middle", "fontSize": 23, "color": "#e3161e", "angle": 76},
       "encoding": {
         "x": {"field": "nm", "type": "quantitative", "scale": {"domain": [698, 1985], "range": [503, 857], "nice": false, "zero": false}, "axis": null},
         "y": {"field": "T", "type": "quantitative", "scale": {"domain": [0, 8.5], "range": [728, 65], "nice": false, "zero": false}, "axis": null},
         "text": {"field": "label"}}},
      {"data": {"name": "qLabels"}, "transform": [{"filter": "datum.L === 420"}], "mark": {"type": "text", "align": "center", "baseline": "middle", "fontSize": 23, "color": "#e3161e", "angle": 70},
       "encoding": {
         "x": {"field": "nm", "type": "quantitative", "scale": {"domain": [698, 1985], "range": [503, 857], "nice": false, "zero": false}, "axis": null},
         "y": {"field": "T", "type": "quantitative", "scale": {"domain": [0, 8.5], "range": [728, 65], "nice": false, "zero": false}, "axis": null},
         "text": {"field": "label"}}},
      {"data": {"name": "qLabels"}, "transform": [{"filter": "datum.L === 370"}], "mark": {"type": "text", "align": "center", "baseline": "middle", "fontSize": 23, "color": "#e3161e", "angle": 62},
       "encoding": {
         "x": {"field": "nm", "type": "quantitative", "scale": {"domain": [698, 1985], "range": [503, 857], "nice": false, "zero": false}, "axis": null},
         "y": {"field": "T", "type": "quantitative", "scale": {"domain": [0, 8.5], "range": [728, 65], "nice": false, "zero": false}, "axis": null},
         "text": {"field": "label"}}},
      {"data": {"name": "qLabels"}, "transform": [{"filter": "datum.L === 320"}], "mark": {"type": "text", "align": "center", "baseline": "middle", "fontSize": 23, "color": "#e3161e", "angle": 65},
       "encoding": {
         "x": {"field": "nm", "type": "quantitative", "scale": {"domain": [698, 1985], "range": [503, 857], "nice": false, "zero": false}, "axis": null},
         "y": {"field": "T", "type": "quantitative", "scale": {"domain": [0, 8.5], "range": [728, 65], "nice": false, "zero": false}, "axis": null},
         "text": {"field": "label"}}}
    ],
    "resolve": {"axis": {"x": "independent", "y": "independent"}}
  }
],
"resolve": {"scale": {"x": "independent", "y": "independent"}, "axis": {"x": "independent", "y": "independent"}}
}
